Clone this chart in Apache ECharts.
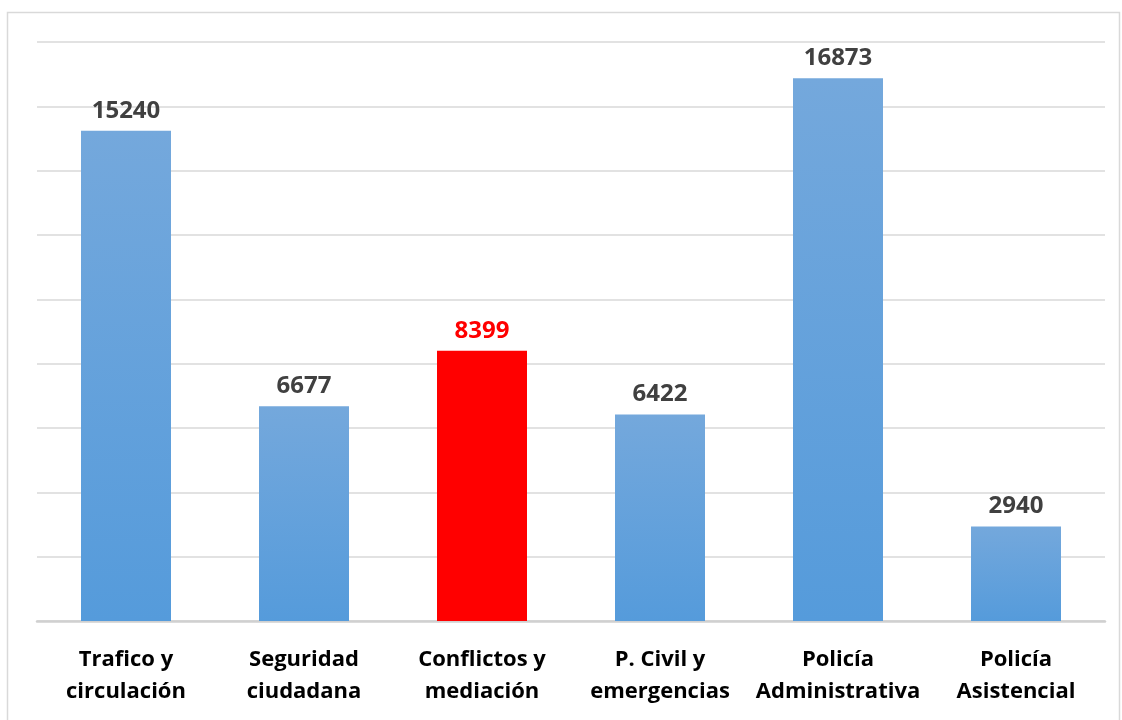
<!DOCTYPE html>
<html>
<head>
<meta charset="utf-8">
<script src="https://cdn.jsdelivr.net/npm/echarts@6/dist/echarts.min.js"></script>
<style>
  html, body { margin: 0; padding: 0; background: #fff; }
  #chart { width: 1122px; height: 720px; }
</style>
</head>
<body>
<div id="chart"></div>
<script>
// categorias y valores
var categorias = ['Trafico y\ncirculación', 'Seguridad\nciudadana', 'Conflictos y\nmediación', 'P. Civil y\nemergencias', 'Policía\nAdministrativa', 'Policía\nAsistencial'];
var valores = [15240, 6677, 8399, 6422, 16873, 2940];
var destacado = 2; // barra en rojo

var azul = new echarts.graphic.LinearGradient(0, 0, 0, 1, [
  { offset: 0, color: '#74a8dc' },
  { offset: 1, color: '#559bdb' }
]);

var datos = valores.map(function (v, i) {
  if (i === destacado) {
    return { value: v, itemStyle: { color: '#ff0000' }, label: { color: '#ff0000' } };
  }
  return v;
});

var chart = echarts.init(document.getElementById('chart'));
chart.setOption({
  animation: false,
  graphic: [{
    type: 'rect',
    shape: { x: 7.5, y: 12.5, width: 1112, height: 720 },
    style: { fill: 'none', stroke: '#d9d9d9', lineWidth: 1.5 },
    silent: true
  }],
  grid: { left: 37, right: 17, top: 42, bottom: 99 },
  xAxis: {
    type: 'category',
    data: categorias,
    axisTick: { show: false },
    axisLine: { lineStyle: { color: '#d0d0d0', width: 2.5 } },
    axisLabel: {
      interval: 0,
      margin: 23,
      color: '#000',
      fontFamily: 'Open Sans',
      fontWeight: 'bold',
      fontSize: 22,
      lineHeight: 32
    }
  },
  yAxis: {
    type: 'value',
    min: 0,
    max: 18000,
    interval: 2000,
    axisLabel: { show: false },
    axisLine: { show: false },
    axisTick: { show: false },
    splitLine: { lineStyle: { color: '#d9d9d9', width: 1.5 } }
  },
  series: [{
    type: 'bar',
    data: datos,
    barWidth: 90,
    itemStyle: { color: azul },
    label: {
      show: true,
      position: 'top',
      distance: 8,
      color: '#404040',
      fontFamily: 'Open Sans',
      fontWeight: 'bold',
      fontSize: 24
    }
  }]
});
</script>
</body>
</html>
